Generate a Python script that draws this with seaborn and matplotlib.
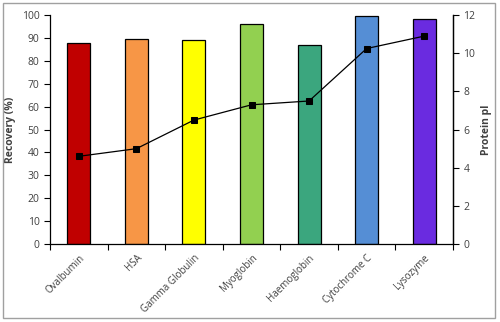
import matplotlib
matplotlib.use("Agg")
import matplotlib.pyplot as plt
import seaborn as sns
import pandas as pd
from matplotlib.patches import Rectangle

proteins = ["Ovalbumin", "HSA", "Gamma Globulin", "Myoglobin", "Haemoglobin", "Cytochrome C", "Lysozyme"]
recovery = [88, 89.5, 89, 96, 87, 99.8, 98.5]
pI = [4.6, 5.0, 6.5, 7.3, 7.5, 10.25, 10.9]
colors = ["#C00000", "#F79646", "#FFFF00", "#92D050", "#3BA67E", "#558ED5", "#6A2BE0"]

sns.set_style("white")
plt.rcParams['font.family'] = ['Open Sans', 'DejaVu Sans']

df = pd.DataFrame({"protein": proteins, "recovery": recovery, "pI": pI})

fig = plt.figure(figsize=(5.0, 3.22), dpi=100)
ax = fig.add_axes([0.1, 0.242, 0.806, 0.711])
sns.barplot(data=df, x="protein", y="recovery", hue="protein", palette=colors,
            width=0.4, edgecolor="black", linewidth=0.9, legend=False, ax=ax, saturation=1)
ax.set_ylim(0, 100)
ax.set_xlim(-0.5, 6.5)
ax.set_yticks(range(0, 101, 10))
ax.set_ylabel("Recovery (%)", fontsize=7.5, fontweight="bold", color="#404040")
ax.set_xlabel("")
ax.set_xticks(range(len(proteins)))
ax.set_xticklabels(proteins, rotation=45, ha="right", rotation_mode="anchor", fontsize=7, color="#404040")
ax.set_xticks([i - 0.5 for i in range(len(proteins) + 1)], minor=True)
ax.tick_params(axis="x", which="major", length=0, pad=6)
ax.tick_params(axis="x", which="minor", length=4, width=0.8, color="black", direction="out", bottom=True)
ax.tick_params(axis="y", length=4, width=0.8, color="black", direction="out", left=True, labelsize=7.5, labelcolor="#404040")
for s in ["top"]:
    ax.spines[s].set_visible(False)
for s in ["left", "bottom", "right"]:
    ax.spines[s].set_color("black")
    ax.spines[s].set_linewidth(0.9)

ax2 = ax.twinx()
sns.lineplot(data=df, x="protein", y="pI", color="black", linewidth=0.9, marker="s",
             markersize=4.5, markeredgecolor="black", ax=ax2, sort=False)
ax2.set_ylim(0, 12)
ax2.set_yticks(range(0, 13, 2))
ax2.set_ylabel("Protein pI", fontsize=7.5, fontweight="bold", color="#404040")
ax2.tick_params(axis="y", length=4, width=0.8, color="black", direction="out", right=True, labelsize=7.5, labelcolor="#404040")
ax2.spines["top"].set_visible(False)
ax2.spines["left"].set_visible(False)
ax2.spines["bottom"].set_visible(False)
ax2.spines["right"].set_color("black")
ax2.spines["right"].set_linewidth(0.9)
ax2.set_xlim(-0.5, 6.5)

fig.patches.append(Rectangle((0.006, 0.012), 0.984, 0.978, transform=fig.transFigure,
                             fill=False, edgecolor="#A0A0A0", linewidth=1.0))

fig.savefig("out.png", dpi=100)
